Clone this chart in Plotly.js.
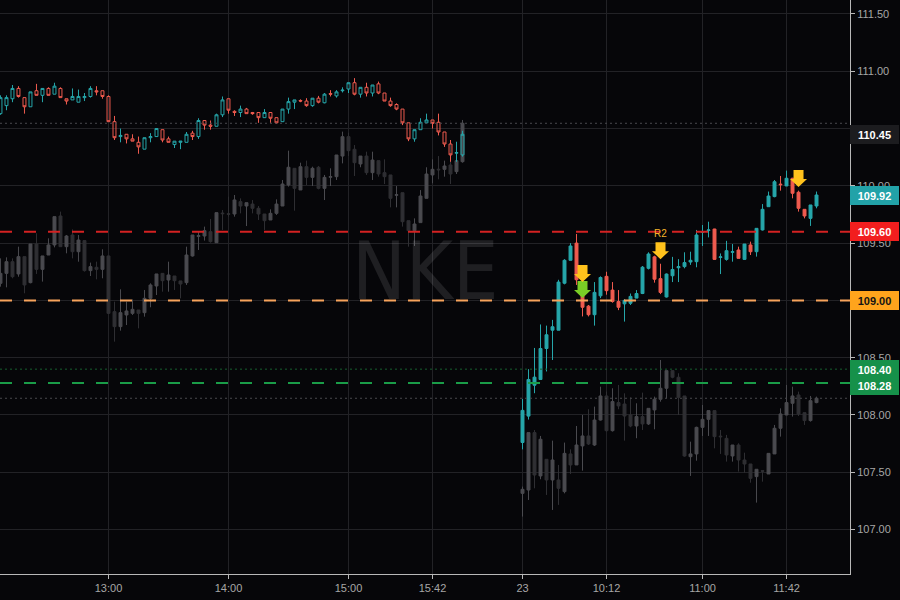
<!DOCTYPE html>
<html>
<head>
<meta charset="utf-8">
<script src="https://cdn.plot.ly/plotly-3.0.1.min.js"></script>
<style>html,body{margin:0;padding:0;background:#060609;}#chart{width:900px;height:600px;}</style>
</head>
<body>
<div id="chart"></div>
<script>
// ---------- session / time settings ----------
const symbol = 'NKE';
const day1Start = '12:06';
const day2Start = '09:30';
const day2Label = '23';
const barMinutes = 3;
const sessionGap = 9; // empty slots between the two sessions

// ---------- main symbol, session 1 (hollow candles) ----------
const day1Open  = [110.63,110.70,110.76,110.85,110.77,110.69,110.83,110.79,110.85,110.80,110.85,110.76,110.75,110.73,110.77,110.78,110.83,110.83,110.78,110.56,110.43,110.45,110.41,110.38,110.32,110.42,110.43,110.49,110.41,110.36,110.38,110.38,110.46,110.43,110.57,110.53,110.52,110.62,110.76,110.65,110.64,110.67,110.64,110.64,110.595,110.64,110.595,110.56,110.67,110.73,110.745,110.74,110.70,110.765,110.725,110.805,110.785,110.83,110.845,110.90,110.80,110.86,110.81,110.89,110.81,110.74,110.71,110.67,110.55,110.41,110.49,110.55,110.575,110.555,110.47,110.365,110.285,110.27];
const day1High  = [110.79,110.79,110.88,110.87,110.77,110.82,110.89,110.85,110.86,110.90,110.86,110.76,110.85,110.84,110.81,110.87,110.87,110.83,110.79,110.61,110.50,110.45,110.45,110.43,110.42,110.46,110.50,110.49,110.43,110.39,110.39,110.47,110.48,110.59,110.57,110.57,110.63,110.78,110.76,110.66,110.70,110.68,110.645,110.64,110.67,110.64,110.595,110.67,110.77,110.75,110.755,110.765,110.765,110.785,110.81,110.835,110.835,110.86,110.90,110.94,110.86,110.90,110.88,110.91,110.81,110.77,110.72,110.67,110.55,110.49,110.59,110.63,110.575,110.63,110.47,110.40,110.385,110.48];
const day1Low   = [110.62,110.66,110.73,110.77,110.63,110.69,110.79,110.73,110.79,110.80,110.77,110.71,110.75,110.73,110.74,110.77,110.79,110.76,110.56,110.40,110.38,110.37,110.39,110.28,110.32,110.38,110.43,110.38,110.38,110.33,110.32,110.38,110.40,110.41,110.49,110.49,110.52,110.60,110.63,110.61,110.60,110.63,110.62,110.55,110.595,110.55,110.54,110.56,110.63,110.67,110.73,110.69,110.69,110.72,110.72,110.78,110.77,110.815,110.81,110.79,110.77,110.78,110.78,110.80,110.74,110.69,110.66,110.53,110.39,110.385,110.49,110.545,110.50,110.44,110.34,110.21,110.21,110.255];
const day1Close = [110.77,110.77,110.85,110.78,110.69,110.82,110.79,110.85,110.79,110.87,110.77,110.74,110.78,110.78,110.78,110.85,110.82,110.78,110.56,110.42,110.44,110.41,110.39,110.34,110.42,110.43,110.50,110.40,110.38,110.39,110.39,110.45,110.43,110.57,110.53,110.52,110.62,110.75,110.66,110.64,110.67,110.63,110.63,110.595,110.64,110.59,110.55,110.67,110.735,110.75,110.74,110.70,110.765,110.73,110.80,110.80,110.82,110.835,110.90,110.80,110.86,110.81,110.88,110.81,110.74,110.70,110.67,110.55,110.41,110.49,110.555,110.575,110.545,110.47,110.365,110.27,110.29,110.45];

// ---------- main symbol, session 2 (filled candles) ----------
const day2Open  = [107.76,107.99,108.26,108.31,108.58,108.74,108.74,109.15,109.35,109.50,109.12,108.95,108.875,109.04,109.21,109.09,108.99,108.97,108.975,109.02,109.06,109.28,109.38,109.19,109.03,109.215,109.285,109.295,109.335,109.338,109.595,109.61,109.623,109.375,109.358,109.42,109.44,109.358,109.484,109.425,109.615,109.818,109.906,110.015,109.999,110.066,109.944,109.795,109.716,109.824];
const day2High  = [108.14,108.40,108.585,108.79,108.78,108.83,109.18,109.36,109.50,109.58,109.13,108.96,109.16,109.21,109.25,109.16,109.09,109.01,109.06,109.09,109.30,109.42,109.39,109.32,109.235,109.38,109.36,109.42,109.425,109.615,109.658,109.687,109.625,109.41,109.52,109.492,109.469,109.492,109.513,109.629,109.841,109.95,110.051,110.086,110.133,110.07,109.958,109.795,109.833,109.95];
const day2Low   = [107.70,107.96,108.19,108.31,108.38,108.48,108.74,109.14,109.35,109.135,108.86,108.86,108.78,109.02,109.05,108.98,108.915,108.815,108.96,109.02,109.055,109.27,109.155,109.055,109.025,109.16,109.16,109.28,109.31,109.289,109.475,109.55,109.353,109.23,109.347,109.338,109.367,109.353,109.396,109.382,109.61,109.818,109.90,109.958,109.999,109.891,109.775,109.716,109.65,109.804];
const day2Close = [108.04,108.31,108.33,108.58,108.70,108.77,109.16,109.35,109.475,109.18,108.94,108.875,109.07,109.20,109.085,108.99,108.94,109.00,109.035,109.06,109.29,109.405,109.185,109.07,109.23,109.27,109.295,109.33,109.35,109.571,109.60,109.615,109.358,109.38,109.434,109.425,109.367,109.492,109.425,109.629,109.795,109.911,110.036,110.01,110.066,109.935,109.804,109.737,109.833,109.92];

// ---------- comparison symbol (grey), session 1 ----------
const cmp1Open  = [109.149,109.236,109.338,109.231,109.382,109.155,109.492,109.271,109.396,109.484,109.737,109.469,109.571,109.425,109.522,109.260,109.289,109.271,109.388,108.902,108.771,108.873,108.887,108.916,108.893,109.018,109.126,109.236,109.178,109.213,109.170,109.155,109.388,109.558,109.562,109.600,109.504,109.762,109.756,109.754,109.862,109.824,109.841,109.804,109.754,109.702,109.760,109.824,110.007,110.153,109.964,110.167,110.074,110.162,109.978,110.075,110.080,110.260,110.429,110.319,110.191,110.260,110.115,110.220,110.115,110.095,109.918,109.940,109.696,109.609,109.679,109.891,110.095,110.145,110.144,110.182,110.124,110.211];
const cmp1High  = [109.367,109.376,109.367,109.469,109.382,109.492,109.586,109.388,109.542,109.731,109.775,109.571,109.620,109.571,109.522,109.330,109.338,109.446,109.388,108.989,109.097,108.989,109.009,108.916,109.091,109.149,109.231,109.236,109.338,109.213,109.170,109.469,109.571,109.600,109.644,109.711,109.766,109.789,109.906,109.920,109.891,109.853,109.876,109.824,109.754,109.795,109.882,110.051,110.307,110.153,110.202,110.220,110.167,110.173,110.095,110.153,110.269,110.473,110.464,110.356,110.260,110.298,110.298,110.220,110.231,110.095,109.998,109.940,109.696,109.716,109.963,110.162,110.231,110.260,110.220,110.400,110.298,110.575];
const cmp1Low   = [109.120,109.114,109.193,109.207,109.062,109.149,109.231,109.164,109.396,109.463,109.469,109.411,109.367,109.338,109.251,109.213,109.184,109.193,108.881,108.640,108.736,108.785,108.873,108.756,108.858,108.940,109.047,109.076,109.076,109.091,109.018,109.135,109.382,109.440,109.522,109.504,109.504,109.615,109.731,109.731,109.760,109.649,109.760,109.702,109.615,109.702,109.746,109.824,109.993,109.783,109.964,110.007,109.998,109.969,109.876,109.998,110.051,110.196,110.260,110.086,110.162,110.095,110.051,110.080,110.016,109.812,109.812,109.644,109.469,109.475,109.679,109.891,110.022,110.057,110.080,110.016,110.103,110.202];
const cmp1Close = [109.236,109.338,109.207,109.382,109.135,109.492,109.271,109.388,109.484,109.731,109.469,109.562,109.425,109.527,109.260,109.295,109.271,109.388,108.887,108.771,108.893,108.908,108.922,108.887,109.018,109.135,109.231,109.172,109.222,109.172,109.143,109.396,109.571,109.565,109.609,109.513,109.766,109.757,109.752,109.877,109.824,109.853,109.804,109.754,109.696,109.760,109.841,110.016,110.162,109.978,110.167,110.074,110.153,109.978,110.074,110.080,110.269,110.429,110.307,110.202,110.260,110.115,110.225,110.103,110.080,109.891,109.922,109.687,109.609,109.667,109.911,110.103,110.144,110.140,110.173,110.103,110.220,110.546];

// ---------- comparison symbol (grey), session 2 ----------
const cmp2Open  = [107.316,107.345,107.846,107.468,107.613,107.433,107.433,107.331,107.660,107.564,107.730,107.817,107.738,107.956,108.166,107.863,108.108,108.096,108.000,107.904,107.986,107.922,108.044,108.137,108.233,108.387,108.329,108.166,107.636,107.660,107.892,107.962,108.038,107.815,107.796,107.642,107.738,107.607,107.572,107.462,107.514,107.485,107.660,107.884,108.000,108.102,108.175,108.020,107.951,108.108];
const cmp2High  = [107.375,107.846,107.869,107.817,107.613,107.776,107.564,107.759,107.700,107.904,108.000,108.050,108.073,108.247,108.204,108.233,108.262,108.189,108.154,108.102,108.195,108.058,108.160,108.480,108.387,108.387,108.364,108.166,107.767,107.898,108.087,108.038,108.038,107.869,107.826,107.738,107.753,107.671,107.572,107.526,107.514,107.665,107.913,108.058,108.262,108.247,108.204,108.020,108.166,108.160];
const cmp2Low   = [107.113,107.258,107.360,107.439,107.302,107.171,107.215,107.316,107.485,107.564,107.514,107.738,107.730,107.951,107.855,107.855,108.050,107.776,107.893,107.797,107.869,107.913,107.875,108.116,108.146,108.320,108.000,107.636,107.468,107.601,107.817,107.817,107.709,107.660,107.593,107.593,107.506,107.497,107.409,107.235,107.418,107.485,107.660,107.811,108.000,107.986,107.991,107.913,107.942,108.102];
const cmp2Close = [107.351,107.846,107.476,107.788,107.433,107.607,107.360,107.665,107.564,107.738,107.817,107.747,107.956,108.166,107.863,108.117,108.079,107.991,107.904,107.986,107.922,108.058,108.137,108.233,108.387,108.329,108.154,107.642,107.660,107.892,107.962,108.038,107.811,107.810,107.651,107.738,107.607,107.572,107.447,107.526,107.509,107.665,107.884,108.009,108.108,108.166,108.009,107.951,108.125,108.146];

// ---------- axis ticks ----------
const tickTimes  = ['13:00','14:00','15:00','15:42','09:30','10:12','11:00','11:42'];
const tickDays   = [1,1,1,1,2,2,2,2];
const tickLabels = ['13:00','14:00','15:00','15:42',day2Label,'10:12','11:00','11:42'];
const priceTicks = [107.0,107.5,108.0,108.5,109.0,109.5,110.0,110.5,111.0,111.5];
const hiddenPriceTicks = [109.0, 110.5]; // fully covered by price tags in the picture
const priceRange = [106.612, 111.622];

// ---------- horizontal levels ----------
const levelPrices = [109.60, 109.00, 108.28];
const levelColors = ['#d42222', '#f7a35c', '#1a9c48'];
const dottedPrices = [110.546, 108.146, 108.40];
const dottedColors = ['#4a4a4e', '#4a4a4e', '#17602f'];

// ---------- price labels on the axis ----------
const tagPrices = [110.45, 109.92, 109.60, 109.00, 108.40, 108.28];
const tagBg     = ['#1c1c1f', '#22a2a8', '#f21e1e', '#ffa41c', '#16914a', '#16914a'];
const tagFg     = ['#ffffff', '#ffffff', '#ffffff', '#131313', '#ffffff', '#ffffff'];

// ---------- signal arrows ----------
const sigDays   = [2, 2, 2, 2];
const sigTimes  = ['10:00', '10:00', '10:39', '11:48'];
const sigPrices = [109.02, 109.16, 109.36, 109.99];
const sigColors = ['#7acd26', '#ffc21c', '#ffc21c', '#ffc21c'];
const sigLabels = ['', '', 'R2', ''];

// ---------- helpers ----------
function toMin(t){ const p = t.split(':').map(Number); return p[0]*60 + p[1]; }
const day2Slot0 = day1Open.length + sessionGap;
function slotOf(day, t){
  return day === 1 ? (toMin(t) - toMin(day1Start)) / barMinutes
                   : day2Slot0 + (toMin(t) - toMin(day2Start)) / barMinutes;
}
const x1 = day1Open.map((_, i) => i);
const x2 = day2Open.map((_, i) => day2Slot0 + i);

const teal = '#26a6aa', red = '#ef5b4f';
const greyUp = '#4a4a4f', greyDn = '#2f2f33';

function candle(x, o, h, l, c, upLine, upFill, dnLine, dnFill){
  return {type:'candlestick', x:x, open:o, high:h, low:l, close:c,
    increasing:{line:{color:upLine, width:1}, fillcolor:upFill},
    decreasing:{line:{color:dnLine, width:1}, fillcolor:dnFill},
    hoverinfo:'skip', showlegend:false};
}

const traces = [
  candle(x1, cmp1Open, cmp1High, cmp1Low, cmp1Close, greyUp, greyUp, greyDn, greyDn),
  candle(x2, cmp2Open, cmp2High, cmp2Low, cmp2Close, greyUp, greyUp, greyDn, greyDn),
  candle(x1, day1Open, day1High, day1Low, day1Close, teal, 'rgba(0,0,0,0)', red, 'rgba(0,0,0,0)'),
  candle(x2, day2Open, day2High, day2Low, day2Close, teal, teal, red, red)
];

const shapes = [];
dottedPrices.forEach((p, i) => shapes.push({type:'line', xref:'paper', x0:0, x1:1, yref:'y', y0:p, y1:p,
  line:{color:dottedColors[i], width:1, dash:'2px,3px'}, layer:'above'}));
levelPrices.forEach((p, i) => shapes.push({type:'line', xref:'paper', x0:0, x1:1, yref:'y', y0:p, y1:p,
  line:{color:levelColors[i], width:2, dash:'12px,12px'}, layer:'above'}));
const arrowPath = 'M0,0 L-8.5,8 L-5,8 L-5,17 L5,17 L5,8 L8.5,8 Z';
sigPrices.forEach((p, i) => shapes.push({type:'path', xref:'x', yref:'y', xsizemode:'pixel', ysizemode:'pixel',
  xanchor:slotOf(sigDays[i], sigTimes[i]), yanchor:p, path:arrowPath,
  fillcolor:sigColors[i], line:{width:0}, layer:'above'}));

const annotations = [{
  xref:'paper', yref:'paper', x:0.5, y:0.527, xanchor:'center', yanchor:'middle', showarrow:false,
  text:symbol, font:{family:'Liberation Sans Narrow, DejaVu Sans Condensed, sans-serif', size:80, color:'rgba(255,255,255,0.10)'}
}];
tagPrices.forEach((p, i) => annotations.push({
  xref:'paper', yref:'y', x:1, y:p, xanchor:'left', yanchor:'middle', showarrow:false,
  text:'<b>' + p.toFixed(2) + '</b>', bgcolor:tagBg[i], borderwidth:0, borderpad:2, width:45, height:15,
  yshift: (i === 5 ? -3 : 0),
  font:{family:'Liberation Sans, Arial, sans-serif', size:11, color:tagFg[i]}
}));
sigLabels.forEach((s, i) => { if (s) annotations.push({
  xref:'x', yref:'y', x:slotOf(sigDays[i], sigTimes[i]), y:sigPrices[i], yshift:26, showarrow:false,
  text:s, font:{family:'Liberation Sans, Arial, sans-serif', size:10, color:'#f5b42a'}
}); });

const layout = {
  width:900, height:600,
  margin:{l:0, r:50, t:0, b:26},
  paper_bgcolor:'#060609', plot_bgcolor:'#060609',
  showlegend:false, dragmode:false, hovermode:false,
  font:{family:'Liberation Sans, Arial, sans-serif', size:11, color:'#a6a6a6'},
  xaxis:{
    type:'linear', range:[-0.08, 141.58], rangeslider:{visible:false},
    tickmode:'array', tickvals:tickTimes.map((t, i) => slotOf(tickDays[i], t)), ticktext:tickLabels,
    showgrid:true, gridcolor:'#222226', gridwidth:1, zeroline:false,
    showline:true, linecolor:'#b8b8b8', linewidth:1, ticks:'outside', ticklen:4, tickcolor:'#b8b8b8',
    tickfont:{size:11, color:'#a6a6a6'}, fixedrange:true
  },
  yaxis:{
    side:'right', range:priceRange, tickmode:'array', tickvals:priceTicks,
    ticktext:priceTicks.map(v => hiddenPriceTicks.includes(v) ? '' : v.toFixed(2)),
    showgrid:true, gridcolor:'#222226', gridwidth:1, zeroline:false,
    showline:true, linecolor:'#b8b8b8', linewidth:1, ticks:'outside', ticklen:4, tickcolor:'#b8b8b8',
    tickfont:{size:11, color:'#a6a6a6'}, fixedrange:true
  },
  shapes:shapes, annotations:annotations
};

Plotly.newPlot('chart', traces, layout, {displayModeBar:false, staticPlot:true});
</script>
</body>
</html>
